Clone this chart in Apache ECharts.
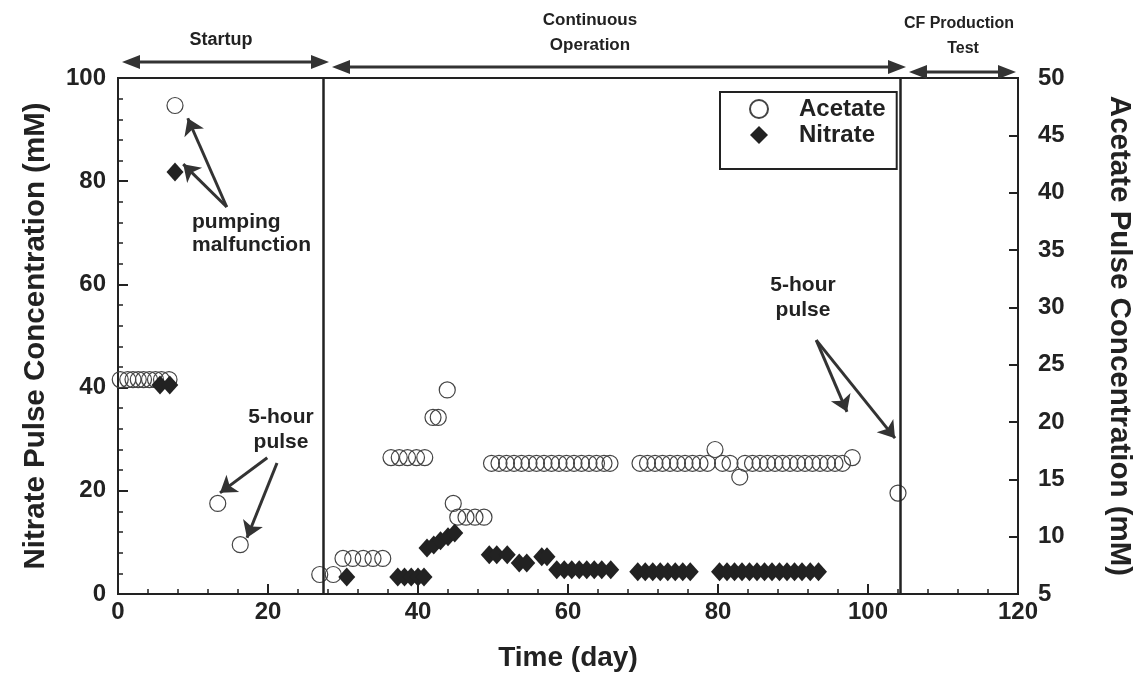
<!DOCTYPE html>
<html>
<head>
<meta charset="utf-8">
<script src="https://cdn.jsdelivr.net/npm/echarts@6/dist/echarts.min.js"></script>
<style>
    html, body { margin: 0; padding: 0; background: #fff; }
    #container { width: 1142px; height: 679px; }
</style>
</head>
<body>
<div id="container"></div>
<script>
// acetate (right axis, mM) and nitrate (left axis, mM) pulse concentrations vs day
var acetateDay = [0.3, 1.3, 2, 2.7, 3.4, 4.2, 5, 5.8, 6.8, 7.6, 13.3, 16.3, 26.9, 28.7,
    30, 31.3, 32.7, 34, 35.3, 36.4, 37.5, 38.6, 39.8, 40.9, 42, 42.7, 43.9, 44.7,
    45.3, 46.4, 47.6, 48.8,
    49.8, 50.8, 51.8, 52.8, 53.8, 54.8, 55.8, 56.8, 57.8, 58.8, 59.8, 60.8, 61.8, 62.8, 63.8, 64.8, 65.6,
    69.6, 70.6, 71.6, 72.6, 73.6, 74.6, 75.6, 76.6, 77.6, 78.6, 79.6, 80.6, 81.6, 82.9, 83.6, 84.6,
    85.6, 86.6, 87.6, 88.6, 89.6, 90.6, 91.6, 92.6, 93.6, 94.6, 95.6, 96.6, 97.9, 104];
var acetateConc = [23.7, 23.7, 23.7, 23.7, 23.7, 23.7, 23.7, 23.7, 23.7, 47.6, 12.9, 9.3, 6.7, 6.7,
    8.1, 8.1, 8.1, 8.1, 8.1, 16.9, 16.9, 16.9, 16.9, 16.9, 20.4, 20.4, 22.8, 12.9,
    11.7, 11.7, 11.7, 11.7,
    16.4, 16.4, 16.4, 16.4, 16.4, 16.4, 16.4, 16.4, 16.4, 16.4, 16.4, 16.4, 16.4, 16.4, 16.4, 16.4, 16.4,
    16.4, 16.4, 16.4, 16.4, 16.4, 16.4, 16.4, 16.4, 16.4, 16.4, 17.6, 16.4, 16.4, 15.2, 16.4, 16.4,
    16.4, 16.4, 16.4, 16.4, 16.4, 16.4, 16.4, 16.4, 16.4, 16.4, 16.4, 16.4, 16.9, 13.8];

var nitrateDay = [5.6, 6.9, 7.6, 30.5, 37.3, 38.2, 39.1, 40, 40.8,
    41.2, 42.1, 43, 44, 44.9,
    49.5, 50.5, 51.9, 53.5, 54.5, 56.5, 57.2,
    58.5, 59.5, 60.5, 61.5, 62.5, 63.5, 64.5, 65.7,
    69.3, 70.3, 71.3, 72.3, 73.3, 74.3, 75.3, 76.3,
    80.2, 81.2, 82.2, 83.2, 84.2, 85.2, 86.2, 87.2, 88.2, 89.2, 90.2, 91.2, 92.3, 93.4];
var nitrateConc = [40.5, 40.5, 81.8, 3.3, 3.3, 3.3, 3.3, 3.3, 3.3,
    8.9, 9.5, 10.3, 11.1, 11.8,
    7.6, 7.6, 7.6, 6.0, 6.0, 7.2, 7.2,
    4.7, 4.7, 4.7, 4.7, 4.7, 4.7, 4.7, 4.7,
    4.3, 4.3, 4.3, 4.3, 4.3, 4.3, 4.3, 4.3,
    4.3, 4.3, 4.3, 4.3, 4.3, 4.3, 4.3, 4.3, 4.3, 4.3, 4.3, 4.3, 4.3, 4.3];

var xTicks = [0, 20, 40, 60, 80, 100, 120];
var nitrateTicks = [0, 20, 40, 60, 80, 100];
var acetateTicks = [5, 10, 15, 20, 25, 30, 35, 40, 45, 50];
var phaseBounds = [27.3, 104.3];

var font = "'Liberation Sans', Arial, sans-serif";
var ink = '#222';

function pairs(xs, ys) {
    return xs.map(function (x, i) { return [x, ys[i]]; });
}

function hArrow(x1, x2, y) {
    return [
        {type: 'line', shape: {x1: x1 + 12, y1: y, x2: x2 - 12, y2: y}, style: {stroke: '#333', lineWidth: 3}},
        {type: 'polygon', shape: {points: [[x1, y], [x1 + 18, y - 7], [x1 + 18, y + 7]]}, style: {fill: '#333'}},
        {type: 'polygon', shape: {points: [[x2, y], [x2 - 18, y - 7], [x2 - 18, y + 7]]}, style: {fill: '#333'}}
    ];
}

function label(text, x, y, size, align) {
    return {
        type: 'text', x: x, y: y,
        style: {text: text, fill: ink, font: 'bold ' + size + 'px ' + font, align: align || 'center', verticalAlign: 'middle'}
    };
}

var dom = document.getElementById("container");
var myChart = echarts.init(dom);

var tickLabel = {fontSize: 24, fontWeight: 'bold', color: ink, fontFamily: font};
var nameStyle = {fontSize: 28, fontWeight: 'bold', color: ink, fontFamily: font};
var yNameStyle = {fontSize: 29.5, fontWeight: 'bold', color: ink, fontFamily: font};

var graphics = []
    .concat(hArrow(122, 329, 62))
    .concat(hArrow(332, 906, 67))
    .concat(hArrow(909, 1016, 72))
    .concat([
        label('Startup', 221, 40, 18),
        label('Continuous', 590, 20, 17),
        label('Operation', 590, 45, 17),
        label('CF Production', 959, 24, 16),
        label('Test', 963, 49, 16),
        label('pumping', 192, 222, 21, 'left'),
        label('malfunction', 192, 245, 21, 'left'),
        label('5-hour', 281, 417, 21),
        label('pulse', 281, 442, 21),
        label('5-hour', 803, 285, 21),
        label('pulse', 803, 310, 21)
    ]);

var option = {
    backgroundColor: '#fff',
    animation: false,
    grid: {left: 118, right: 124, top: 78, bottom: 85, show: true, borderColor: ink, borderWidth: 2},
    legend: {
        left: 720, top: 92,
        orient: 'vertical',
        data: ['Acetate', 'Nitrate'],
        borderColor: ink, borderWidth: 2,
        padding: [5, 11, 22, 29],
        itemWidth: 18, itemHeight: 18, itemGap: 2,
        textStyle: {fontSize: 24, fontWeight: 'bold', color: ink, fontFamily: font, padding: [0, 0, 0, 26]}
    },
    xAxis: {
        type: 'value',
        min: xTicks[0], max: xTicks[xTicks.length - 1], interval: 20,
        name: 'Time (day)', nameLocation: 'middle', nameGap: 50, nameTextStyle: nameStyle,
        axisLine: {lineStyle: {color: ink, width: 2}},
        axisTick: {inside: true, length: 10, lineStyle: {color: ink, width: 2}},
        minorTick: {show: true, splitNumber: 5, length: 5, lineStyle: {color: ink, width: 1.5}},
        axisLabel: Object.assign({margin: 6}, tickLabel),
        splitLine: {show: false}
    },
    yAxis: [{
        type: 'value',
        min: nitrateTicks[0], max: nitrateTicks[nitrateTicks.length - 1], interval: 20,
        name: 'Nitrate Pulse Concentration (mM)', nameLocation: 'middle', nameGap: 67, nameTextStyle: yNameStyle,
        axisLine: {show: true, lineStyle: {color: ink, width: 2}},
        axisTick: {inside: true, length: 10, lineStyle: {color: ink, width: 2}},
        minorTick: {show: true, splitNumber: 5, length: 5, lineStyle: {color: ink, width: 1.5}},
        axisLabel: Object.assign({margin: 12}, tickLabel),
        splitLine: {show: false}
    }, {
        type: 'value', position: 'right',
        min: acetateTicks[0], max: acetateTicks[acetateTicks.length - 1], interval: 5,
        name: 'Acetate Pulse Concentration (mM)', nameLocation: 'middle', nameGap: 86, nameRotate: -90,
        nameTextStyle: yNameStyle,
        axisLine: {show: true, lineStyle: {color: ink, width: 2}},
        axisTick: {inside: true, length: 9, lineStyle: {color: ink, width: 2}},
        axisLabel: Object.assign({margin: 20}, tickLabel),
        splitLine: {show: false}
    }],
    series: [{
        name: 'Acetate',
        type: 'scatter',
        yAxisIndex: 1,
        symbol: 'circle',
        symbolSize: 16,
        itemStyle: {color: 'rgba(255,255,255,0)', borderColor: '#444', borderWidth: 1.2, opacity: 1},
        data: pairs(acetateDay, acetateConc),
        markLine: {
            silent: true, symbol: 'none', label: {show: false},
            lineStyle: {color: ink, width: 2.5, type: 'solid'},
            data: phaseBounds.map(function (d) { return {xAxis: d}; })
        },
        z: 3
    }, {
        name: 'Nitrate',
        type: 'scatter',
        yAxisIndex: 0,
        symbol: 'diamond',
        symbolSize: [17, 19],
        itemStyle: {color: '#222', opacity: 1},
        data: pairs(nitrateDay, nitrateConc),
        markLine: {
            silent: true, symbol: ['none', 'arrow'], symbolSize: 16, label: {show: false},
            lineStyle: {color: '#333', width: 3, type: 'solid'},
            itemStyle: {color: '#333'},
            data: [
                [{coord: [14.5, 75.0]}, {coord: [9.3, 92.2]}],
                [{coord: [14.5, 75.0]}, {coord: [8.7, 83.3]}],
                [{coord: [19.9, 26.4]}, {coord: [13.6, 19.6]}],
                [{coord: [21.2, 25.4]}, {coord: [17.2, 10.9]}],
                [{coord: [93.1, 49.2]}, {coord: [97.2, 35.3]}],
                [{coord: [93.1, 49.2]}, {coord: [103.6, 30.2]}]
            ]
        },
        z: 4
    }],
    graphic: graphics
};

if (option && typeof option === "object") {
    myChart.setOption(option, true);
}
</script>
</body>
</html>
